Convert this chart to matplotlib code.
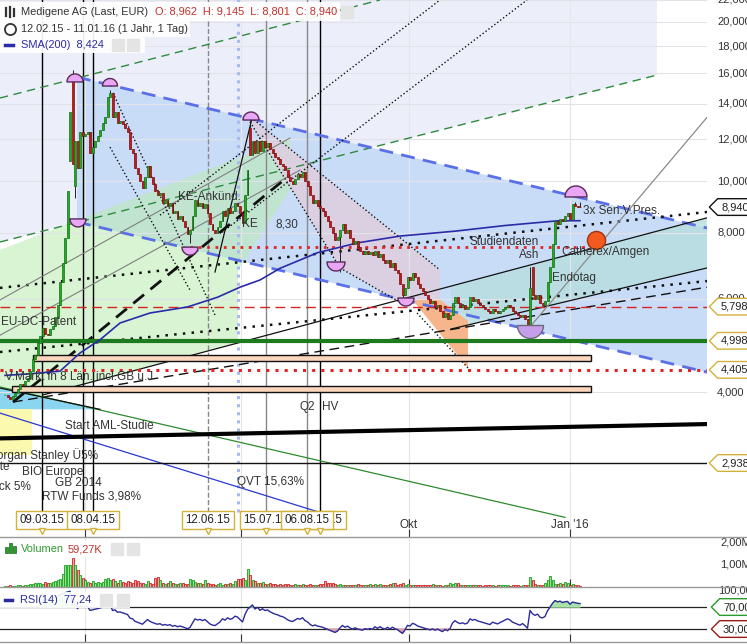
import numpy as np
import matplotlib
matplotlib.use("Agg")
import matplotlib.pyplot as plt
import matplotlib.transforms as mtransforms
from matplotlib.path import Path
from matplotlib.patches import Polygon, Rectangle
from matplotlib.lines import Line2D
from matplotlib.ticker import NullLocator

plt.rcParams['font.family'] = ['Liberation Sans', 'DejaVu Sans']

# daily closes (EUR), 12.02.15 - 11.01.16, one value per trading day
closes = [
    3.95, 3.92, 3.88, 3.93, 3.98, 4.05, 4.15, 4.12, 4.20, 4.25,
    4.38, 4.62, 4.70, 4.95, 5.10, 5.28, 5.15, 5.12, 5.25, 5.32,
    5.55, 5.85, 6.45, 7.00, 7.80, 9.60, 13.5, 10.8, 11.9, 10.6,
    12.4, 12.2, 12.3, 12.4, 11.3, 11.6, 11.9, 12.2, 12.5, 12.9,
    13.2, 14.4, 14.7, 13.2, 13.5, 12.9, 13.0, 12.8, 12.6, 12.4,
    11.5, 11.3, 10.6, 10.3, 10.0, 9.7, 10.2, 10.7, 10.2, 9.9,
    9.6, 9.4, 9.5, 9.1, 9.2, 9.0, 9.1, 8.7, 8.8, 8.5,
    8.6, 8.4, 8.2, 7.95, 8.1, 8.6, 9.2, 9.0, 9.1, 8.9,
    9.05, 8.7, 8.3, 8.1, 8.0, 8.2, 8.4, 8.8, 8.6, 8.9,
    8.7, 8.8, 9.1, 9.0, 8.7, 8.35, 9.4, 10.5, 11.2, 11.9,
    11.3, 11.9, 11.4, 11.9, 11.6, 11.8, 11.5, 11.3, 11.1, 11.0,
    10.8, 10.7, 10.5, 10.2, 10.0, 9.9, 10.1, 10.3, 10.2, 10.4,
    10.0, 9.8, 9.4, 9.1, 9.2, 9.0, 8.9, 8.8, 8.6, 8.4,
    8.2, 8.0, 7.75, 7.85, 8.1, 8.3, 8.0, 8.1, 7.8, 7.6,
    7.7, 7.5, 7.4, 7.3, 7.4, 7.3, 7.35, 7.25, 7.4, 7.2,
    7.3, 7.1, 7.0, 7.1, 6.9, 7.0, 6.8, 6.7, 6.4, 6.1,
    6.3, 6.6, 6.5, 6.7, 6.6, 6.4, 6.3, 6.2, 6.1, 6.0,
    5.9, 5.95, 5.8, 5.85, 5.7, 5.55, 5.65, 5.5, 5.6, 5.9,
    6.05, 5.9, 5.8, 5.85, 5.75, 5.8, 6.05, 5.95, 6.0, 5.9,
    5.85, 5.8, 5.75, 5.7, 5.65, 5.75, 5.7, 5.65, 5.7, 5.75,
    5.8, 5.85, 5.8, 5.7, 5.65, 5.6, 5.55, 5.6, 5.5, 5.35,
    6.3, 6.1, 6.0, 6.1, 5.9, 5.85, 5.95, 6.45, 6.9, 7.6,
    8.4, 8.3, 8.5, 8.4, 8.6, 8.7, 8.5, 9.05, 9.0, 8.96,
    8.94,
]
# bars whose open is not the previous close (gaps)
open_gaps = {26: 10.9, 27: 15.9, 28: 9.8, 98: 12.6, 211: 6.9}
wick_highs = {27: 16.2, 42: 14.9, 98: 13.3, 210: 6.9, 228: 9.15, 230: 9.145}
wick_lows = {28: 9.3, 74: 7.65, 134: 6.75, 159: 6.0, 209: 5.25}

# volume in thousand shares
volumes_k = [
    60, 40, 80, 50, 30, 70, 90, 50, 110, 80,
    140, 120, 200, 160, 180, 150, 220, 170, 190, 240,
    280, 320, 350, 600, 980, 1020, 1000, 1320, 1000, 760,
    540, 420, 300, 240, 200, 260, 180, 220, 160, 240,
    380, 420, 300, 360, 250, 200, 300, 240, 180, 280,
    220, 160, 300, 250, 180, 200, 150, 260, 180, 140,
    420, 450, 300, 200, 150, 180, 250, 160, 120, 150,
    200, 180, 140, 120, 380, 300, 220, 160, 180, 140,
    300, 200, 150, 120, 100, 130, 160, 110, 140, 150,
    180, 120, 260, 380, 360, 420, 300, 820, 560, 300,
    260, 200, 180, 220, 150, 120, 160, 140, 120, 100,
    130, 110, 150, 120, 90, 100, 140, 110, 90, 130,
    100, 80, 120, 110, 90, 100, 150, 120, 260, 160,
    200, 180, 140, 100, 120, 90, 100, 80, 110, 90,
    100, 120, 80, 70, 110, 90, 120, 100, 140, 110,
    130, 90, 110, 80, 120, 180, 160, 110, 150, 200,
    110, 120, 80, 100, 90, 110, 70, 80, 100, 90,
    80, 120, 90, 100, 80, 60, 110, 70, 190, 130,
    160, 200, 90, 110, 100, 80, 70, 90, 100, 80,
    80, 60, 90, 70, 80, 100, 60, 70, 90, 80,
    100, 70, 60, 90, 80, 70, 60, 80, 110, 90,
    450, 330, 120, 100, 90, 110, 200, 340, 520, 300,
    150, 120, 160, 140, 210, 200, 110, 120, 80, 100,
    59.27,
]

# SMA(200) at some bars
sma_bars = [0, 10, 22, 30, 38, 46, 58, 73, 85, 94, 102, 110, 118, 125, 141, 158, 180, 200, 221, 230]
sma_vals = [4.30, 4.33, 4.38, 4.74, 5.02, 5.40, 5.64, 5.79, 6.04, 6.31, 6.51, 6.85, 7.10, 7.33,
            7.65, 7.88, 8.05, 8.25, 8.42, 8.424]

# horizontal levels
level_5798 = 5.798
level_4998 = 4.998
level_4405 = 4.405
level_2938 = 2.938
level_studie = 7.51
price_ticks = [4, 6, 8, 10, 12, 14, 16, 18, 20, 22]
quarter_bars = [32, 94.4, 161.6, 226]

# events: (label, bar)
events = [('09.03.15', 14.8), ('08.04.15', 35.2), ('12.06.15', 81.2), ('15.07.15', 104.4),
          ('20.08.15', 126.0), ('06.08.15', 120.8)]
event_lines = [(14.8, 'k', '-'), (31.2, 'k', '-'), (35.2, 'k', '-'), (81.2, '#888888', '--'),
               (93.2, '#a9b8f0', ':'), (104.4, '#888888', '-'), (120.8, '#888888', '-'),
               (126.0, 'k', '-')]

# ---------------------------------------------------------------- figure
fig = plt.figure(figsize=(7.47, 6.44), dpi=100)
W, H = 747.0, 644.0
ax = fig.add_axes([0, 1 - 537 / H, 707 / W, 537 / H])
axv = fig.add_axes([0, 1 - 587 / H, 707 / W, 50 / H])
axr = fig.add_axes([0, 1 - 642 / H, 707 / W, 55 / H])

for a in (ax, axv, axr):
    for s in a.spines.values():
        s.set_visible(False)
    a.set_xlim(-2, 280.8)
    a.set_xticks(quarter_bars)
    a.set_xticklabels([])
    a.tick_params(axis='x', direction='in', length=6, color='#333333')
    a.set_yticks([])
    a.yaxis.set_minor_locator(NullLocator())

ax.set_yscale('log')
ax.set_ylim(2.13, 21.99)
ax.set_yticks([])
ax.yaxis.set_minor_locator(NullLocator())

# background areas
ax.add_patch(Polygon([(-2, 23), (260.8, 23), (260.8, 15.87), (-2, 7.68)], closed=True,
                     fc='#eceefa', ec='none', zorder=0.5))
ax.add_patch(Polygon([(28.8, 15.73), (280.8, 8.16), (280.8, 4.36), (28.8, 8.38)], closed=True,
                     fc='#c9dcf7', ec='none', zorder=0.6))
ax.add_patch(Polygon([(-2, 7.42), (114, 12.07), (114, 9.63), (93.2, 6.80), (93.2, 4.97), (-2, 3.76)],
                     closed=True, fc='#b9ecb0', ec='none', alpha=0.55, zorder=0.7))
ax.add_patch(Polygon([(178.4, 6.34), (280.8, 8.53), (280.8, 6.86), (178.4, 5.26)], closed=True,
                     fc='#b7dee0', ec='none', alpha=0.8, zorder=0.8))
ax.add_patch(Polygon([(98.4, 13.2), (174, 6.80), (174, 5.97), (160, 5.84), (134, 6.86), (98, 12.94)],
                     closed=True, fc='#dccfe0', ec='none', alpha=0.9, zorder=0.8))
ax.add_patch(Polygon([(163, 5.97), (174, 5.97), (185.2, 5.45), (185.2, 4.44)], closed=True,
                     fc='#f6b58a', ec='none', zorder=0.85))
ax.add_patch(Polygon([(-2, 4.07), (38, 3.71), (-2, 3.71)], closed=True,
                     fc='#8ad6f1', ec='none', zorder=0.85))
ax.add_patch(Rectangle((-2, 3.04), 12.8, 3.71 - 3.04, fc='#fbf8b0', ec='none', zorder=0.85))

# grid
for p in price_ticks:
    ax.axhline(p, color='#e2e2e8', lw=0.8, zorder=1)
for q in quarter_bars:
    for a in (ax, axv, axr):
        a.axvline(q, color='#e6e6e6', lw=0.8, zorder=0.9)

# event verticals
for xb, c, ls in event_lines:
    lw = 2.2 if ls == ':' else 1.0
    ax.vlines(xb, 2.37, 23, colors=c, linestyles=ls, lw=lw, zorder=2)

# trend lines: (x0, p0, x1, p1, color, style, width)
trend_lines = [
    (-2, 14.36, 150, 21.99, '#2e8b3e', (0, (6, 4)), 1.0),
    (-2, 7.68, 260.8, 15.87, '#2e8b3e', (0, (6, 4)), 1.0),
    (28.8, 15.73, 280.8, 8.16, '#5b6fe6', (0, (5, 3)), 2.0),
    (28.8, 8.38, 280.8, 4.36, '#5b6fe6', (0, (5, 3)), 2.0),
    (15.2, 3.95, 280.8, 8.53, '#111111', '-', 0.9),
    (178.4, 5.26, 280.8, 6.86, '#111111', '-', 0.9),
    (3.2, 3.83, 280.8, 6.31, '#111111', (0, (7, 4)), 1.0),
    (3.2, 3.83, 114, 10.28, '#111111', (0, (5, 3)), 2.0),
    (-2, 4.76, 280.8, 6.48, '#111111', (0, (1, 2.5)), 1.8),
    (-2, 6.29, 280.8, 8.75, '#111111', (0, (1, 2.5)), 1.8),
    (210, 5.31, 280.8, 13.2, '#8a8a8a', '-', 0.9),
    (-2, 5.97, 114, 12.07, '#808080', '-', 0.8),
    (-2, 5.12, 118, 10.5, '#808080', '-', 0.8),
    (-2, 4.09, 224, 2.32, '#2e8b2e', '-', 0.9),
    (-2, 3.65, 126, 2.37, '#2a3ad0', '-', 0.9),
    (-2, 4.07, 38, 3.71, '#111111', '-', 0.9),
    (-2, 3.27, 280.8, 3.48, '#000000', '-', 3.0),
    (84, 6.74, 98.8, 13.16, '#111111', '-', 0.9),
    (43.2, 14.68, 84, 5.59, '#111111', ':', 1.0),
    (42, 11.6, 74, 6.23, '#111111', ':', 1.0),
    (62, 8.63, 174, 21.99, '#111111', ':', 1.0),
    (86.8, 8.01, 208.8, 21.99, '#111111', ':', 1.0),
    (98.4, 13.2, 174, 6.80, '#111111', ':', 1.0),
    (98, 12.94, 134, 6.86, '#111111', ':', 1.0),
    (134, 6.86, 160, 5.84, '#111111', ':', 1.0),
    (164.8, 5.64, 185.2, 4.44, '#111111', ':', 1.0),
]
for x0, p0, x1, p1, c, ls, lw in trend_lines:
    ax.plot([x0, x1], [p0, p1], color=c, linestyle=ls, lw=lw, zorder=2.5)

# horizontal levels
ax.axhline(level_5798, color='#d42424', lw=1.0, linestyle=(0, (7, 4)), zorder=3)
ax.axhline(level_4998, color='#1e7a1e', lw=3.0, zorder=3)
ax.axhline(level_4405, color='#e02424', lw=2.2, linestyle=(0, (1, 2)), zorder=3)
ax.axhline(level_2938, color='#111111', lw=1.0, zorder=3)
ax.hlines(level_studie, 74, 238, colors='#e02424', lw=2.0, linestyles=(0, (1, 2)), zorder=3)
ax.add_patch(Rectangle((11.2, 4.58), 234.4 - 11.2, 4.70 - 4.58, fc='#fbd5bc', ec='#111111',
                       lw=1.0, zorder=3))
ax.add_patch(Rectangle((2.8, 4.00), 234.4 - 2.8, 4.11 - 4.00, fc='#fbd5bc', ec='#111111',
                       lw=1.0, zorder=3))

# candles
idx = np.arange(len(closes))
opens = [closes[0]] + closes[:-1]
opens = [open_gaps.get(k, o) for k, o in enumerate(opens)]
up = [c >= o for o, c in zip(opens, closes)]
bottoms = [min(o, c) for o, c in zip(opens, closes)]
tops = [max(o, c) for o, c in zip(opens, closes)]
heights = [t - b for t, b in zip(tops, bottoms)]
highs = [wick_highs.get(k, t) for k, t in enumerate(tops)]
lows = [wick_lows.get(k, b) for k, b in enumerate(bottoms)]
ax.vlines(idx, lows, highs, colors='#222222', lw=0.7, zorder=4)
ax.bar(idx, heights, bottom=bottoms, width=0.8,
       color=['#22aa22' if u else '#c21a1a' for u in up],
       edgecolor=['#137013' if u else '#7d0d0d' for u in up], linewidth=0.5, zorder=5)

# SMA 200
ax.plot(sma_bars, sma_vals, color='#2b2ba8', lw=1.2, zorder=4.5)

# half-disc markers at turning points
th = np.linspace(0, np.pi, 40)
top_half = Path(np.column_stack([np.cos(th), np.sin(th)]).tolist() + [(1, 0)], closed=True)
bot_half = Path(np.column_stack([np.cos(th), -np.sin(th)]).tolist() + [(1, 0)], closed=True)
top_pts = [(28, 15.4, 8), (42, 15.13, 7.5), (98.4, 13.05, 8), (228.4, 9.34, 11)]
bot_pts = [(29.2, 8.49, 8), (74, 7.51, 8), (132.4, 7.04, 9), (160.4, 6.02, 8)]
ax.scatter([p[0] for p in top_pts], [p[1] for p in top_pts], s=[(1.44 * p[2]) ** 2 for p in top_pts],
           marker=top_half, fc='#e8a6f5', ec='#5a2a5a', lw=1, zorder=6)
ax.scatter([p[0] for p in bot_pts], [p[1] for p in bot_pts], s=[(1.44 * p[2]) ** 2 for p in bot_pts],
           marker=bot_half, fc='#e8a6f5', ec='#5a2a5a', lw=1, zorder=6)
ax.scatter([210], [5.35], s=[(1.44 * 13) ** 2], marker=bot_half, fc='#c69eea', ec='#6a6a7a',
           lw=1, zorder=6)
ax.scatter([236.4], [7.74], s=[170], marker='o', fc='#f25a1e', ec='#a03414', lw=1, zorder=6)

# annotations
notes = [
    ('KE-Ankünd.', 69.2, 9.34, 'left'), ('KE', 94.8, 8.30, 'left'), ('8,30', 108, 8.30, 'left'),
    ('EU-DC-Patent', -1.6, 5.42, 'left'), ('V.Markt in 8 Län. incl.GB u.J', 0.0, 4.27, 'left'),
    ('Start AML-Studie', 24, 3.45, 'left'), ('Morgan Stanley Ü5%', 37.2, 3.04, 'right'),
    ('Patente', 2.0, 2.89, 'right'), ('BlackRock 5%', 10.4, 2.65, 'right'),
    ('BIO Europe', 6.8, 2.82, 'left'), ('GB 2014', 20, 2.69, 'left'),
    ('RTW Funds 3,98%', 14.8, 2.54, 'left'), ('QVT 15,63%', 92.8, 2.70, 'left'),
    ('Q2', 117.6, 3.75, 'left'), ('HV', 126.8, 3.75, 'left'),
    ('Studiendaten', 186, 7.68, 'left'), ('Ash', 205.6, 7.26, 'left'),
    ('Catherex/Amgen', 222.4, 7.34, 'left'), ('Endotag', 218.8, 6.57, 'left'),
    ('3x Sen.V.Pres.', 231.2, 8.79, 'left'),
]
for txt, xb, p, ha in notes:
    ax.text(xb, p, txt, ha=ha, va='center', fontsize=8.5, color='#333333', zorder=7)

# date boxes
tr_x = mtransforms.blended_transform_factory(ax.transData, ax.transAxes)
for lab, xb in events:
    ax.text(xb, 0.0317, lab, transform=tr_x, ha='center', va='center', fontsize=8.3, color='#222222',
            zorder=8, bbox=dict(boxstyle='square,pad=0.3', fc='white', ec='#d4b13a', lw=1))
ax.plot([e[1] for e in events], [0.012] * len(events), 'v', transform=tr_x, ms=5,
        mfc='white', mec='#d4b13a', zorder=9, clip_on=False)
ax.text(161.6, 0.0225, 'Okt', transform=tr_x, ha='center', va='center', fontsize=8.5, color='#333333')
ax.text(226, 0.0225, "Jan '16", transform=tr_x, ha='center', va='center', fontsize=8.5, color='#333333')


# right axis labels
def tag_box(x0, y0, width, height, mutation_size):
    pad = 0.3 * mutation_size
    x0, y0 = x0 - pad, y0 - pad
    x1, y1 = x0 + width + 2 * pad, y0 + height + 2 * pad
    tip = (y1 - y0) / 2
    return Path([(x0, y0), (x1, y0), (x1, y1), (x0, y1), (x0 - tip, (y0 + y1) / 2), (x0, y0)],
                closed=True)


tr_y = mtransforms.blended_transform_factory(ax.transAxes, ax.transData)
for p in price_ticks:
    ax.text(717 / 707, p, f'{p:.3f}'.replace('.', ','), transform=tr_y, ha='left', va='center',
            fontsize=8, color='#333333', clip_on=False)
for val, ec in [(8.94, '#111111'), (level_5798, '#d4b13a'), (level_4998, '#d4b13a'),
                (level_4405, '#d4b13a'), (level_2938, '#d4b13a')]:
    ax.text(721 / 707, val, f'{val:.3f}'.replace('.', ','), transform=tr_y, ha='left', va='center',
            fontsize=8, color='#222222', clip_on=False, zorder=9,
            bbox=dict(boxstyle=tag_box, fc='white', ec=ec, lw=1))

# volume panel
axv.set_ylim(0, 2.27e6)
vols = np.array(volumes_k) * 1000
axv.bar(idx, vols, width=0.8, color=['#8fe38f' if u else '#f4a3a3' for u in up],
        edgecolor=['#1e9e1e' if u else '#cc2222' for u in up], linewidth=0.6, zorder=3)
tr_vy = mtransforms.blended_transform_factory(axv.transAxes, axv.transData)
for v, lab in [(2e6, '2,00M'), (1e6, '1,00M')]:
    axv.text(720 / 707, v, lab, transform=tr_vy, ha='left', va='center', fontsize=8,
             color='#333333', clip_on=False)

# RSI(14) from the closes (Wilder smoothing)
c_arr = np.array(closes)
delta = np.diff(c_arr)
gain = np.clip(delta, 0, None)
loss = np.clip(-delta, 0, None)
rsi = np.full(len(c_arr), np.nan)
ag, al = gain[:14].mean(), loss[:14].mean()
rsi[14] = 100 - 100 / (1 + ag / al) if al > 0 else 100
for k in range(14, len(delta)):
    ag = (ag * 13 + gain[k]) / 14
    al = (al * 13 + loss[k]) / 14
    rsi[k + 1] = 100 - 100 / (1 + ag / al) if al > 0 else 100

axr.set_ylim(6.4, 106.4)
axr.axhline(70, color='#222222', lw=0.9, zorder=2)
axr.axhline(30, color='#222222', lw=0.9, zorder=2)
ok = ~np.isnan(rsi)
axr.fill_between(idx[ok], rsi[ok], 70, where=rsi[ok] > 70, interpolate=True, color='#a9e3a9', zorder=2.5)
axr.fill_between(idx[ok], rsi[ok], 30, where=rsi[ok] < 30, interpolate=True, color='#d9a3ab', zorder=2.5)
axr.plot(idx, rsi, color='#2b2b9b', lw=1.0, zorder=3)
tr_ry = mtransforms.blended_transform_factory(axr.transAxes, axr.transData)
axr.text(718 / 707, 100, '100,00', transform=tr_ry, ha='left', va='center', fontsize=8,
         color='#333333', clip_on=False)
for v, ec in [(70, '#2a9a2a'), (30, '#9a1a1a')]:
    axr.text(723 / 707, v, f'{v},00', transform=tr_ry, ha='left', va='center', fontsize=8,
             color='#222222', clip_on=False, bbox=dict(boxstyle=tag_box, fc='white', ec=ec, lw=1))

# panel separators
for py in (537, 587, 642):
    fig.add_artist(Line2D([0, 1], [1 - py / H] * 2, color='#999999', lw=1.0))


# legends (pixel positions)
def fx(px):
    return px / W


def fy(py):
    return 1 - py / H


for x0, y0, w, h in [(0, 2, 340, 19), (0, 20, 190, 17), (0, 37, 145, 16),
                     (0, 541, 145, 16), (0, 592, 130, 16)]:
    fig.add_artist(Rectangle((fx(x0), fy(y0 + h)), w / W, h / H, transform=fig.transFigure,
                             fc='white', ec='none', alpha=0.92))

fig.text(fx(21), fy(12), 'Medigene AG (Last, EUR)', fontsize=7.9, color='#333333', va='center')
fig.text(fx(155), fy(12), 'O: 8,962  H: 9,145  L: 8,801  C: 8,940', fontsize=7.9, color='#c0302a',
         va='center')
fig.text(fx(21), fy(29), '12.02.15 - 11.01.16 (1 Jahr, 1 Tag)', fontsize=7.9, color='#333333',
         va='center')
fig.text(fx(21), fy(45), 'SMA(200)  8,424', fontsize=7.9, color='#2b2ba8', va='center')
fig.text(fx(21), fy(549), 'Volumen', fontsize=7.9, color='#2e9b2e', va='center')
fig.text(fx(68), fy(549), '59,27K', fontsize=7.9, color='#c0302a', va='center')
fig.text(fx(20), fy(600), 'RSI(14)  77,24', fontsize=7.9, color='#2b2b9b', va='center')

# small icons
for x, h in [(6, 8), (10, 10), (14, 7)]:
    fig.add_artist(Line2D([fx(x), fx(x)], [fy(12 - h / 2), fy(12 + h / 2)], color='#333333', lw=1.6))
fig.add_artist(Line2D([fx(10)], [fy(29)], marker='o', ms=8, mfc='white', mec='#333333', mew=1.3))
fig.add_artist(Line2D([fx(5), fx(13)], [fy(45), fy(45)], color='#2b2ba8', lw=2.5))
fig.add_artist(Line2D([fx(5), fx(12)], [fy(600), fy(600)], color='#2b2b9b', lw=2.5))
for x, h in [(6, 6), (10, 10), (14, 7)]:
    fig.add_artist(Rectangle((fx(x - 1.5), fy(553)), 3 / W, h / H, transform=fig.transFigure,
                             fc='#2e9b2e', ec='#1a6a1a', lw=0.5))
for x, y in [(347, 12), (118, 45), (133, 45), (117, 549), (133, 549), (106, 600), (123, 600)]:
    fig.add_artist(Line2D([fx(x)], [fy(y)], marker='s', ms=8, mfc='#e4e4e4', mec='#e4e4e4'))

fig.savefig('out.png', dpi=100)
